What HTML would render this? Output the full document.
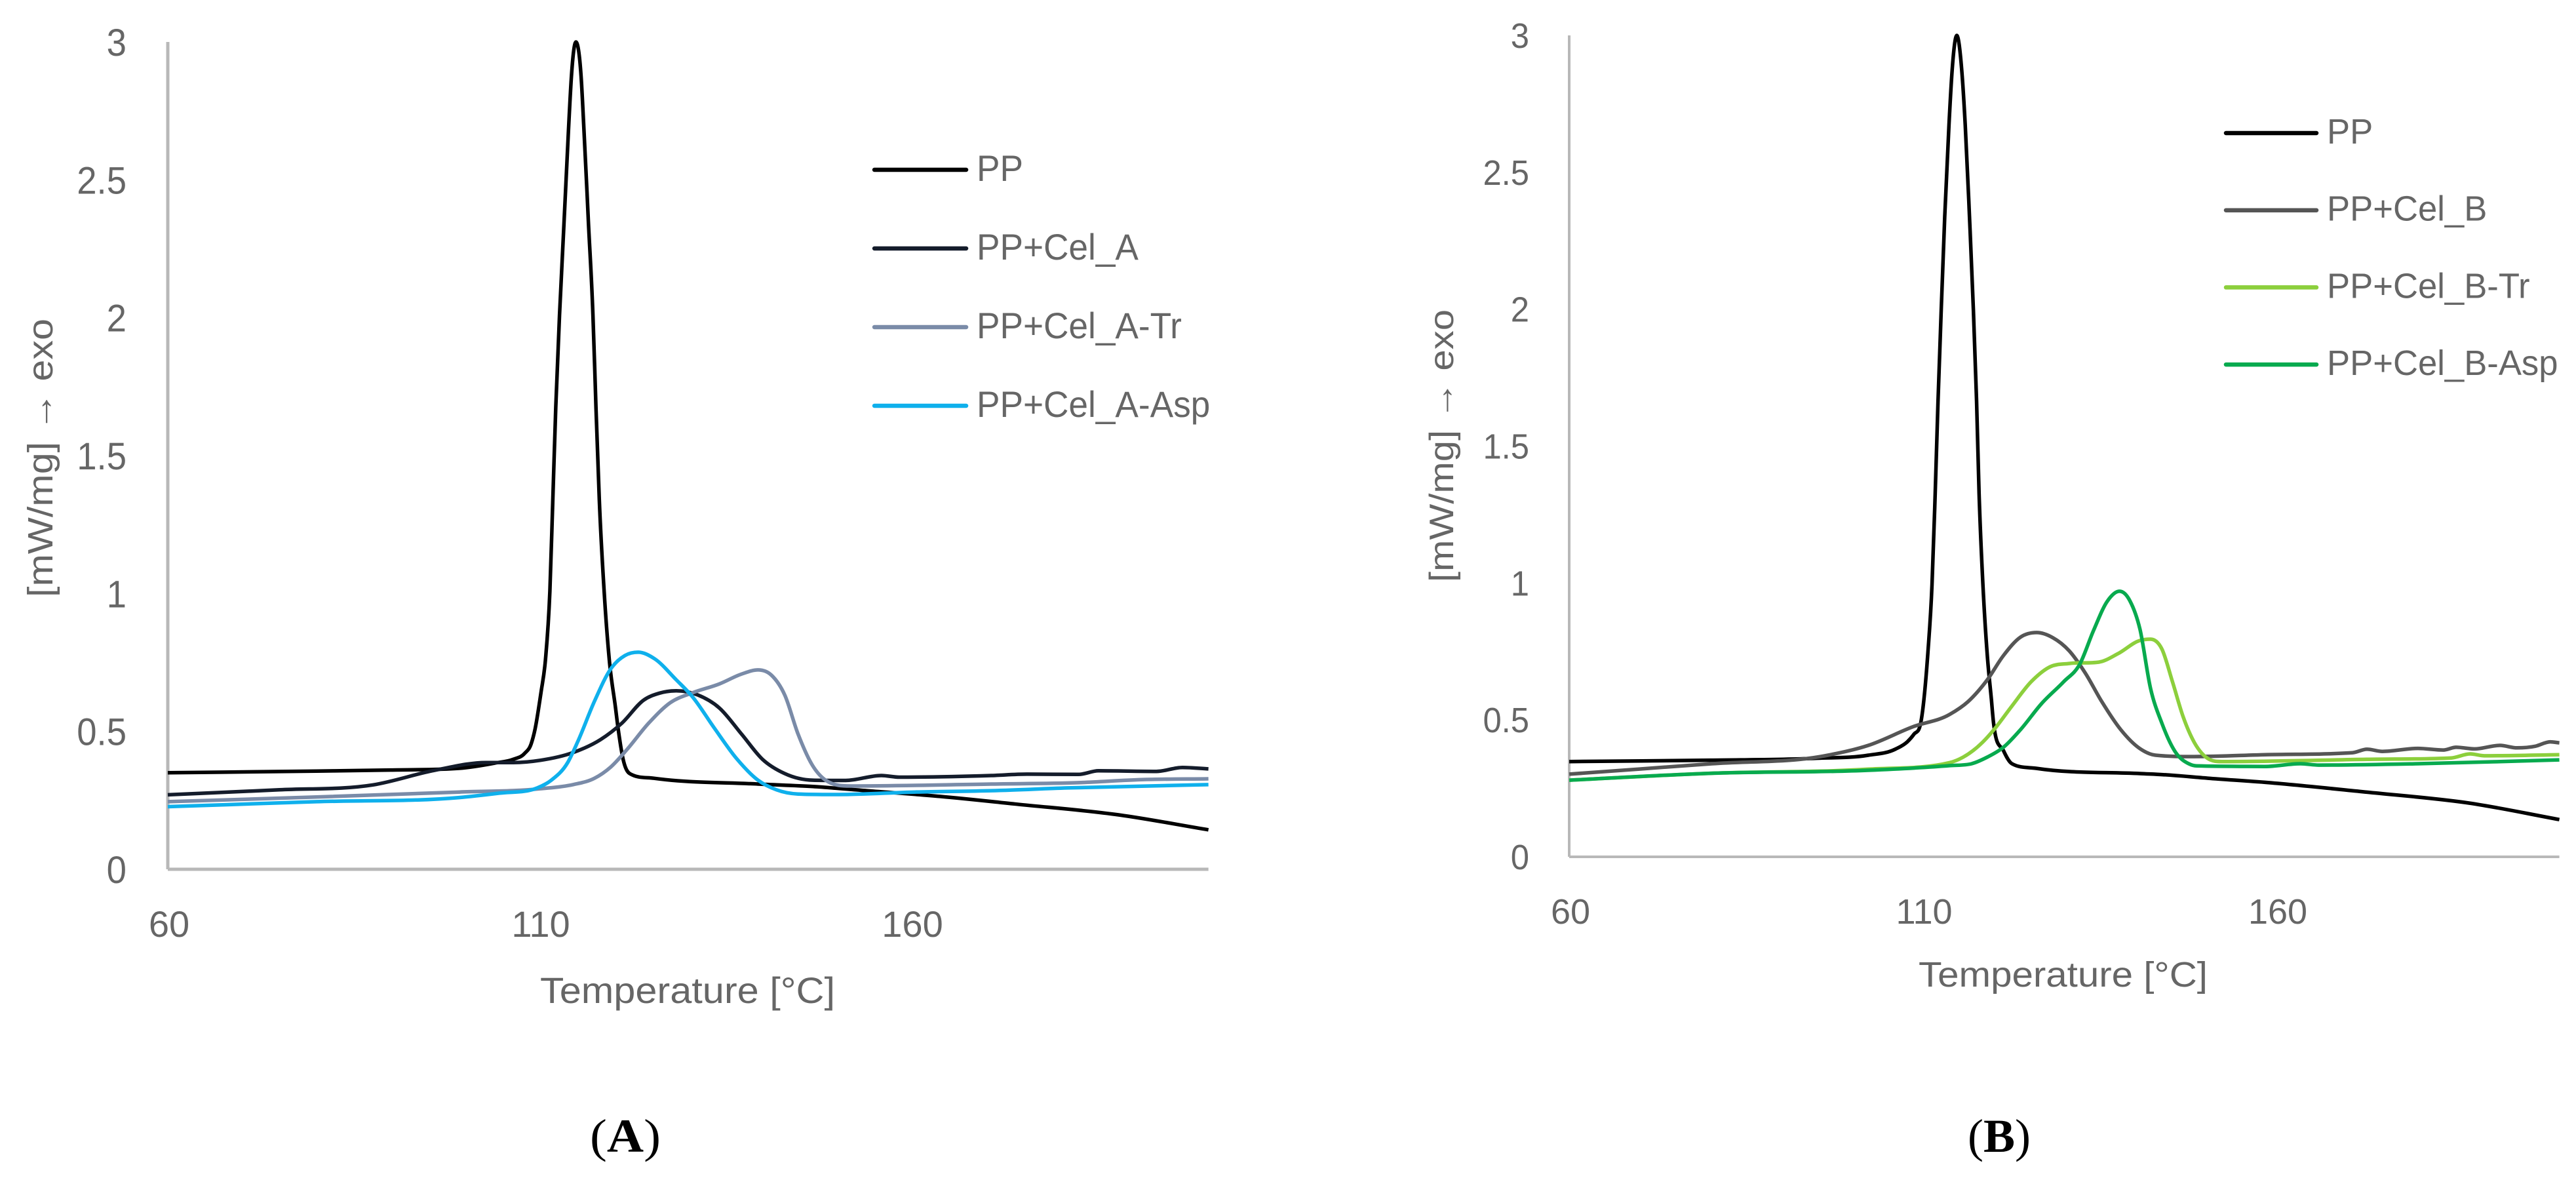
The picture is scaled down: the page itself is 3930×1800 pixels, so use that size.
<!DOCTYPE html>
<html lang="en">
<head>
<meta charset="utf-8">
<title>DSC crystallization curves</title>
<style>
html,body{margin:0;padding:0;background:#fff;width:3930px;height:1800px;overflow:hidden}
svg{display:block}
text{font-family:"Liberation Sans",sans-serif;fill:#666}
.cap{font-family:"Liberation Serif",serif;fill:#000}
</style>
</head>
<body>
<svg id="figure" width="3930" height="1800" viewBox="0 0 3930 1800" xmlns="http://www.w3.org/2000/svg">
  <rect x="0" y="0" width="3930" height="1800" fill="#fff"/>
  <g id="chartA"></g>
  <g id="chartB"></g>

  <text x="824" y="1530" font-size="56" textLength="450" lengthAdjust="spacingAndGlyphs">Temperature [°C]</text>
  <text transform="translate(80,911) rotate(-90)" font-size="54" textLength="425" lengthAdjust="spacingAndGlyphs">[mW/mg] → exo</text>
  <text x="2927" y="1505" font-size="54" textLength="441" lengthAdjust="spacingAndGlyphs">Temperature [°C]</text>
  <text transform="translate(2217,888) rotate(-90)" font-size="52" textLength="416" lengthAdjust="spacingAndGlyphs">[mW/mg] → exo</text>

  <text class="cap" x="900" y="1757" font-size="72" textLength="108" lengthAdjust="spacingAndGlyphs">(<tspan font-weight="bold">A</tspan>)</text>
  <text class="cap" x="3002" y="1757" font-size="72" textLength="96" lengthAdjust="spacingAndGlyphs">(<tspan font-weight="bold">B</tspan>)</text>
</svg>

<script>
// Shared tick labels
const xTickValues = [60, 110, 160];
const yTickValues = [0, 0.5, 1, 1.5, 2, 2.5, 3];

// Panel A series: temperature [°C] and heat flow [mW/mg]
const aPPTemp = [60,80,90,99.2,104,106.5,108,108.9,109.4,110.2,110.8,111.4,111.8,112.2,112.7,113.3,113.9,114.3,114.9,115.6,116,116.6,117.2,117.6,118.05,118.7,119.4,120.2,120.6,121.2,122.5,125.4,139.4,146.8,154,163.9,174.2,188,200];
const aPPVal  = [0.35,0.356,0.36,0.366,0.385,0.399,0.42,0.456,0.507,0.64,0.758,1.008,1.341,1.676,2.009,2.341,2.676,2.876,3.0,2.876,2.676,2.341,2.009,1.676,1.341,1.008,0.758,0.592,0.507,0.406,0.342,0.33,0.309,0.3,0.285,0.264,0.236,0.197,0.143];
const aCelTemp = [60,75,87.6,96.1,102.8,106.5,110.1,114.5,118.2,121.1,124,126.2,128.4,131.3,134.2,137.2,140,143,146.8,151.2,156,158.4,170.8,175.6,182.5,185.2,193,196.5,200];
const aCelVal  = [0.27,0.288,0.306,0.36,0.387,0.387,0.395,0.423,0.47,0.53,0.613,0.639,0.647,0.632,0.585,0.49,0.399,0.347,0.323,0.322,0.34,0.334,0.34,0.345,0.344,0.357,0.355,0.369,0.364];
const aTrTemp = [60,80,99.2,110.1,114.5,117.4,119.6,121.8,124.7,127.6,130.6,134.2,137.2,139.4,141.2,143,144.8,146.7,148.5,151.9,170.8,182.5,191,200];
const aTrVal  = [0.245,0.262,0.28,0.292,0.307,0.33,0.371,0.435,0.53,0.604,0.64,0.672,0.708,0.723,0.704,0.632,0.49,0.378,0.323,0.302,0.309,0.314,0.325,0.328];
const aAspTemp = [60,80,99.2,104.6,109.7,111.6,113.8,115.2,117.4,119.6,121.5,123.3,125.5,128.4,130.6,133.5,136.5,139.4,141.9,144.8,150.3,160.5,170.8,181,200];
const aAspVal  = [0.227,0.245,0.26,0.276,0.295,0.323,0.387,0.466,0.609,0.727,0.775,0.787,0.763,0.687,0.625,0.513,0.402,0.323,0.288,0.273,0.271,0.28,0.285,0.295,0.307];

// Panel B series
const bPPTemp = [60,80,95,102.3,106.1,107.8,108.75,109.7,110.7,111.3,111.75,112.15,112.6,113.1,113.7,114.15,114.8,115.5,116,116.6,117.15,117.6,117.95,118.5,119.1,119.7,120,121.4,122.6,126.1,140.7,144,150.3,158.4,172.8,187.3,200];
const bPPVal  = [0.348,0.353,0.36,0.371,0.393,0.42,0.448,0.489,0.741,0.993,1.329,1.665,2.0,2.337,2.673,2.875,3.0,2.875,2.673,2.337,2.0,1.665,1.329,0.993,0.741,0.573,0.489,0.388,0.34,0.323,0.304,0.3,0.287,0.272,0.236,0.196,0.136];
const bCelTemp = [60,80.2,96.6,102.3,108.7,113.8,116.4,119.1,121.4,123.8,126.1,128.4,130.7,133,135.3,138,140.7,142.9,148.4,158.4,170.7,172.8,175,180,183.6,185.4,188,191.6,194,196.6,198.7,200];
const bCelVal  = [0.302,0.34,0.371,0.407,0.476,0.52,0.567,0.646,0.735,0.802,0.819,0.8,0.752,0.67,0.567,0.464,0.395,0.371,0.366,0.373,0.38,0.393,0.385,0.396,0.39,0.4,0.394,0.407,0.398,0.404,0.42,0.416];
const bTrTemp = [60,80,102.3,113.8,115.7,118.4,120.3,122.6,125.3,128,130.7,134.9,137.6,140.7,142.2,143.8,145.3,146.8,148.4,150.3,152.3,172.8,184.7,187.4,189.4,200];
const bTrVal  = [0.28,0.305,0.32,0.344,0.364,0.417,0.472,0.551,0.639,0.694,0.706,0.711,0.742,0.79,0.795,0.759,0.639,0.512,0.417,0.359,0.348,0.356,0.361,0.376,0.369,0.373];
const bAspTemp = [60,80,102.3,113.8,116.9,119.1,121.4,123.8,126.8,129.9,132.2,134.1,136.1,137.8,139.3,140.7,142.2,143.8,145.7,147.6,148.7,158.4,163.4,166,180,200];
const bAspVal  = [0.28,0.305,0.316,0.333,0.34,0.364,0.4,0.464,0.56,0.639,0.704,0.824,0.934,0.97,0.934,0.831,0.615,0.488,0.383,0.34,0.332,0.33,0.34,0.335,0.34,0.354];

// Series and legend labels
const aNames = ['PP', 'PP+Cel_A', 'PP+Cel_A-Tr', 'PP+Cel_A-Asp'];
const bNames = ['PP', 'PP+Cel_B', 'PP+Cel_B-Tr', 'PP+Cel_B-Asp'];

const NS = 'http://www.w3.org/2000/svg';

function smoothPath(xs, ys) {
  const n = xs.length, d = [], m = new Array(n);
  for (let i = 0; i < n - 1; i++) d.push((ys[i + 1] - ys[i]) / (xs[i + 1] - xs[i]));
  m[0] = d[0]; m[n - 1] = d[n - 2];
  for (let i = 1; i < n - 1; i++) {
    if (d[i - 1] * d[i] <= 0) { m[i] = 0; continue; }
    const h0 = xs[i] - xs[i - 1], h1 = xs[i + 1] - xs[i];
    const avg = (h1 * d[i - 1] + h0 * d[i]) / (h0 + h1);
    const lim = 3 * Math.min(Math.abs(d[i - 1]), Math.abs(d[i]));
    m[i] = Math.sign(avg) * Math.min(Math.abs(avg), lim);
  }
  let p = 'M' + xs[0].toFixed(1) + ' ' + ys[0].toFixed(1);
  for (let i = 0; i < n - 1; i++) {
    const h = (xs[i + 1] - xs[i]) / 3;
    p += 'C' + (xs[i] + h).toFixed(1) + ' ' + (ys[i] + m[i] * h).toFixed(1) + ' ' +
         (xs[i + 1] - h).toFixed(1) + ' ' + (ys[i + 1] - m[i + 1] * h).toFixed(1) + ' ' +
         xs[i + 1].toFixed(1) + ' ' + ys[i + 1].toFixed(1);
  }
  return p;
}

function drawChart(root, o) {
  const sx = t => o.x0 + (t - 60) * o.pxPerDeg;
  const sy = v => o.y0 - v * o.pxPerUnit;

  const yAxis = document.createElementNS(NS, 'line');
  
  
  yAxis.setAttribute('x1', sx(60)); yAxis.setAttribute('x2', sx(60));
  yAxis.setAttribute('y1', sy(3)); yAxis.setAttribute('y2', sy(0));
  yAxis.setAttribute('stroke', '#b8b8b8'); yAxis.setAttribute('stroke-width', o.axisW);
  root.appendChild(yAxis);

  const xAxis = document.createElementNS(NS, 'line');
  
  
  xAxis.setAttribute('x1', sx(60)); xAxis.setAttribute('x2', sx(200));
  xAxis.setAttribute('y1', sy(0)); xAxis.setAttribute('y2', sy(0));
  xAxis.setAttribute('stroke', '#b8b8b8'); xAxis.setAttribute('stroke-width', o.axisW);
  root.appendChild(xAxis);

  xTickValues.forEach(v => {
    const t = document.createElementNS(NS, 'text');
    
    
    t.setAttribute('x', sx(v) + 2);
    t.setAttribute('y', o.xTickBase);
    t.setAttribute('font-size', o.tickSize);
    t.setAttribute('text-anchor', 'middle');
    t.textContent = v;
    root.appendChild(t);
  });

  yTickValues.forEach(v => {
    const t = document.createElementNS(NS, 'text');
    
    
    t.setAttribute('transform', 'translate(' + o.yTickRight + ',' + (sy(v) + o.yTickShift) + ') scale(0.94,1)');
    t.setAttribute('font-size', o.yTickSize);
    t.setAttribute('text-anchor', 'end');
    t.textContent = v;
    root.appendChild(t);
  });

  o.series.forEach(s => {
    const path = document.createElementNS(NS, 'path');
    
    
    path.setAttribute('d', smoothPath(s.t.map(sx), s.v.map(sy)));
    path.setAttribute('fill', 'none');
    path.setAttribute('stroke', s.color);
    path.setAttribute('stroke-width', o.lineW);
    path.setAttribute('stroke-linejoin', 'round');
    root.appendChild(path);
  });

  o.series.forEach((s, i) => {
    const ly = o.legendY + i * o.legendStep;
    const sw = document.createElementNS(NS, 'line');
    
    
    sw.setAttribute('x1', o.legendX1); sw.setAttribute('x2', o.legendX2);
    sw.setAttribute('y1', ly); sw.setAttribute('y2', ly);
    sw.setAttribute('stroke', s.color);
    sw.setAttribute('stroke-width', o.lineW + 1);
    sw.setAttribute('stroke-linecap', 'round');
    root.appendChild(sw);

    const t = document.createElementNS(NS, 'text');
    
    
    t.setAttribute('transform', 'translate(' + o.legendTextX + ',' + (ly + o.legendShift) + ') scale(' + o.legendScale + ',1)');
    t.setAttribute('font-size', o.legendSize);
    t.textContent = s.name;
    root.appendChild(t);
  });
}

drawChart(document.getElementById('chartA'), {
  x0: 256, pxPerDeg: 11.34, y0: 1326, pxPerUnit: 420.67,
  axisW: 5, lineW: 5.5, tickSize: 56, yTickSize: 58, xTickBase: 1429, yTickRight: 193, yTickShift: 21,
  legendX1: 1334, legendX2: 1474, legendY: 259, legendStep: 120, legendTextX: 1490, legendShift: 17,
  legendSize: 56, legendScale: 0.95,
  series: [
    { name: aNames[0], t: aPPTemp, v: aPPVal, color: '#000000' },
    { name: aNames[1], t: aCelTemp, v: aCelVal, color: '#141c2b' },
    { name: aNames[2], t: aTrTemp, v: aTrVal, color: '#7a8ba8' },
    { name: aNames[3], t: aAspTemp, v: aAspVal, color: '#0fb0ec' }
  ]
});

drawChart(document.getElementById('chartB'), {
  x0: 2394, pxPerDeg: 10.79, y0: 1307, pxPerUnit: 417.67,
  axisW: 4, lineW: 5.5, tickSize: 54, yTickSize: 54, xTickBase: 1409, yTickRight: 2333, yTickShift: 19,
  legendX1: 3396, legendX2: 3534, legendY: 203, legendStep: 117.7, legendTextX: 3550, legendShift: 16,
  legendSize: 54, legendScale: 0.975,
  series: [
    { name: bNames[0], t: bPPTemp, v: bPPVal, color: '#000000' },
    { name: bNames[1], t: bCelTemp, v: bCelVal, color: '#555555' },
    { name: bNames[2], t: bTrTemp, v: bTrVal, color: '#8ccf3c' },
    { name: bNames[3], t: bAspTemp, v: bAspVal, color: '#08aa4e' }
  ]
});
</script>
</body>
</html>
